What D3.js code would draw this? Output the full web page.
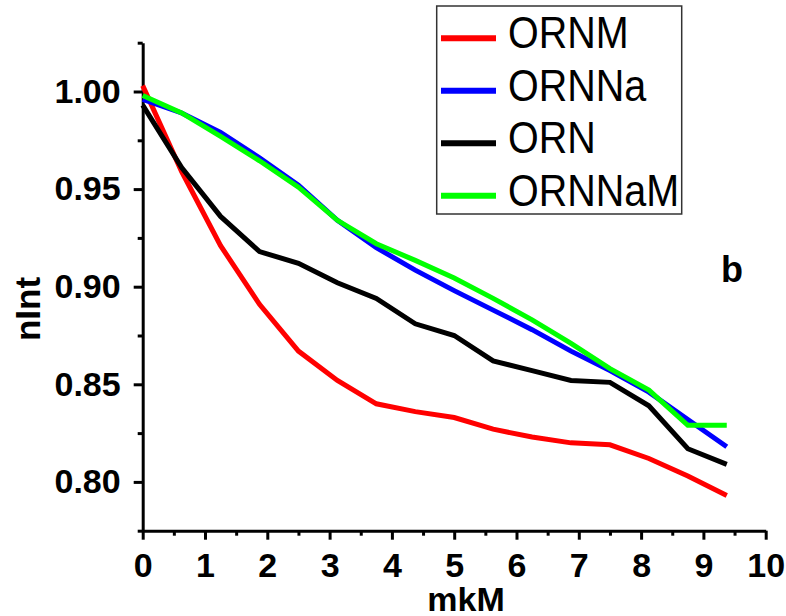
<!DOCTYPE html>
<html>

<head>
    <meta charset="UTF-8">
    <title>nInt vs mkM</title>
    <script type="text/javascript" src="https://d3js.org/d3.v7.min.js"></script>
    <style>
        body { margin: 0; background: #fff; }
        svg { display: block; }
        text { font-family: "Liberation Sans", Arial, sans-serif; }
    </style>
</head>

<body>
    <svg id="chart"></svg>
    <script>
        //data
        const conc = [0, 0.625, 1.25, 1.875, 2.5, 3.125, 3.75, 4.375, 5, 5.625, 6.25, 6.875, 7.5, 8.125, 8.75, 9.375];
        const ORNM = [1.003, 0.959, 0.921, 0.891, 0.867, 0.852, 0.840, 0.836, 0.833, 0.827, 0.823, 0.820, 0.819, 0.812, 0.803, 0.793];
        const ORNNa = [0.996, 0.989, 0.979, 0.966, 0.952, 0.934, 0.920, 0.9085, 0.898, 0.888, 0.878, 0.867, 0.857, 0.846, 0.832, 0.818];
        const ORN = [0.993, 0.961, 0.936, 0.918, 0.912, 0.902, 0.894, 0.881, 0.875, 0.862, 0.857, 0.852, 0.851, 0.839, 0.817, 0.809];
        const ORNNaM = [0.998, 0.989, 0.977, 0.9645, 0.951, 0.934, 0.922, 0.9135, 0.9045, 0.894, 0.883, 0.871, 0.858, 0.847, 0.829, 0.829];

        const seriesNames = ["ORNM", "ORNNa", "ORN", "ORNNaM"];
        const seriesValues = [ORNM, ORNNa, ORN, ORNNaM];
        const seriesColors = ["#ff0000", "#0000ff", "#000000", "#00ff00"];

        const xTicks = [0, 1, 2, 3, 4, 5, 6, 7, 8, 9, 10];
        const yTicks = [0.80, 0.85, 0.90, 0.95, 1.00];

        //declare consts
        const w = 786, h = 616;
        const svg = d3.select("#chart").attr("width", w).attr("height", h);

        //declare scales
        const x = d3.scaleLinear().domain([0, 10]).range([142.7, 765.7]);
        const y = d3.scaleLinear().domain([0.775, 1.025]).range([530.7, 42.7]);

        //minor ticks
        const xMinor = d3.range(0.5, 10, 1);
        const yMinor = d3.range(0, 11).map(i => +(0.775 + i * 0.025).toFixed(3))
            .filter(v => !yTicks.some(t => Math.abs(t - v) < 1e-6));

        svg.append("g")
            .attr("transform", "translate(0,530.7)")
            .call(d3.axisBottom(x).tickValues(xMinor).tickSize(5).tickSizeOuter(0).tickFormat(""))
            .call(g => g.select(".domain").remove())
            .selectAll("line").attr("stroke-width", 3);

        svg.append("g")
            .attr("transform", "translate(142.7,0)")
            .call(d3.axisLeft(y).tickValues(yMinor).tickSize(5).tickSizeOuter(0).tickFormat(""))
            .call(g => g.select(".domain").remove())
            .selectAll("line").attr("stroke-width", 3);

        //main axes
        const xAxis = svg.append("g")
            .attr("transform", "translate(0,530.7)")
            .call(d3.axisBottom(x).tickValues(xTicks).tickSize(9).tickSizeOuter(0).tickPadding(13).tickFormat(d3.format("d")));
        const yAxis = svg.append("g")
            .attr("transform", "translate(142.7,0)")
            .call(d3.axisLeft(y).tickValues(yTicks).tickSize(9).tickSizeOuter(0).tickPadding(13).tickFormat(d3.format(".2f")));

        [xAxis, yAxis].forEach(a => {
            a.select(".domain").attr("stroke-width", 3);
            a.selectAll(".tick line").attr("stroke-width", 3);
            a.selectAll(".tick text")
                .attr("font-size", 34)
                .attr("font-weight", "bold")
                .attr("font-family", "'Liberation Sans', Arial, sans-serif")
                .attr("fill", "#000");
        });

        //lines
        const line = d3.line()
            .x((d, i) => x(conc[i]))
            .y(d => y(d));

        svg.append("g")
            .selectAll("path")
            .data(seriesValues)
            .join("path")
            .attr("d", d => line(d))
            .attr("fill", "none")
            .attr("stroke", (d, i) => seriesColors[i])
            .attr("stroke-width", 5)
            .attr("stroke-linejoin", "miter");

        //axis titles
        svg.append("text")
            .attr("transform", "translate(40,309) rotate(-90)")
            .attr("text-anchor", "middle")
            .attr("font-size", 35)
            .attr("font-weight", "bold")
            .text("nInt");

        svg.append("text")
            .attr("x", 466)
            .attr("y", 611)
            .attr("text-anchor", "middle")
            .attr("font-size", 34)
            .attr("font-weight", "bold")
            .text("mkM");

        //panel letter
        svg.append("text")
            .attr("x", 721)
            .attr("y", 282)
            .attr("font-size", 36)
            .attr("font-weight", "bold")
            .text("b");

        //legend
        const legend = svg.append("g");
        legend.append("rect")
            .attr("x", 436.7).attr("y", 6)
            .attr("width", 245).attr("height", 208)
            .attr("fill", "#fff")
            .attr("stroke", "#333")
            .attr("stroke-width", 1.5);

        const rows = legend.selectAll("g.row")
            .data(seriesNames)
            .join("g")
            .attr("class", "row")
            .attr("transform", (d, i) => "translate(0," + (38.3 + i * 52.5) + ")");

        rows.append("line")
            .attr("x1", 441).attr("x2", 496)
            .attr("stroke", (d, i) => seriesColors[i])
            .attr("stroke-width", 6);

        rows.append("text")
            .attr("transform", "translate(508,10) scale(1,1.1)")
            .attr("font-size", 39.5)
            .text(d => d);
    </script>
</body>

</html>
